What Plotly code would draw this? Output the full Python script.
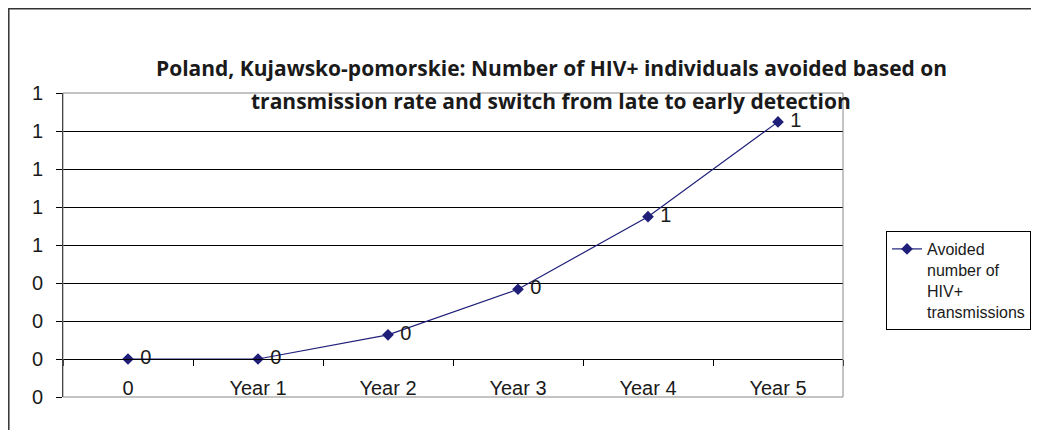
import plotly.graph_objects as go

categories = ["0", "Year 1", "Year 2", "Year 3", "Year 4", "Year 5"]
avoided = [0.0, 0.0, 0.127, 0.367, 0.749, 1.248]
data_labels = ["0", "0", "0", "0", "1", "1"]
y_tickvals = [-0.2, 0.0, 0.2, 0.4, 0.6, 0.8, 1.0, 1.2, 1.4]
y_ticktext = ["0", "0", "0", "0", "1", "1", "1", "1", "1"]
series_name = "Avoided<br>number of<br>HIV+<br>transmissions"
title_line1 = "Poland, Kujawsko-pomorskie: Number of HIV+ individuals avoided based on"
title_line2 = "transmission rate and switch from late to early detection"

# the page body adds an 8px offset to the figure
OFF = 8
W, H = 1039, 430
L, T = 63 - OFF, 93 - OFF
pw, ph = 780, 304
R = W - L - pw
B = H - T - ph

def px_x(x):
    return (x - OFF - L) / pw

def px_y(y):
    return (H - B - (y - OFF)) / ph

line_color = "#1f1f7a"
text_color = "#1a1a1a"
tick_font = dict(family="Liberation Sans, Arial, sans-serif", size=20, color=text_color)

fig = go.Figure()
fig.add_trace(go.Scatter(
    x=categories, y=avoided, mode="lines+markers+text",
    name=series_name,
    line=dict(color=line_color, width=1.2),
    marker=dict(symbol="diamond", size=9, color=line_color),
    text=data_labels, texttemplate="\u00a0%{text}", textposition="middle right",
    textfont=tick_font,
))
# helper trace for the category axis drawn at zero (tick marks only)
fig.add_trace(go.Scatter(
    x=categories, y=[None] * len(categories), xaxis="x2",
    showlegend=False, hoverinfo="skip", mode="lines",
))

fig.update_layout(
    width=W, height=H,
    margin=dict(l=L, r=R, t=T, b=B),
    paper_bgcolor="white", plot_bgcolor="white",
    showlegend=True,
    xaxis=dict(
        type="category", categoryorder="array", categoryarray=categories,
        range=[-0.5, 5.5], showgrid=False, zeroline=False, showline=False,
        ticks="", ticklabelstandoff=-23,
        tickfont=tick_font, automargin=False,
    ),
    xaxis2=dict(
        type="category", categoryorder="array", categoryarray=categories,
        overlaying="x", anchor="free", position=0.125,
        range=[-0.5, 5.5], showgrid=False, zeroline=False,
        showline=True, linecolor="#000", linewidth=1,
        ticks="outside", tickson="boundaries", ticklen=6, tickcolor="#000",
        showticklabels=False, automargin=False,
    ),
    yaxis=dict(
        range=[-0.2, 1.4], tickvals=y_tickvals, ticktext=y_ticktext,
        showgrid=True, gridcolor="#000", gridwidth=1, zeroline=False,
        showline=True, linecolor="#000", linewidth=1,
        ticks="outside", ticklen=6, tickcolor="#000",
        ticklabelstandoff=9, tickfont=tick_font, automargin=False,
    ),
    legend=dict(
        x=px_x(886), y=px_y(231), xanchor="left", yanchor="top",
        bordercolor="#000", borderwidth=1, bgcolor="white",
        font=dict(family="Liberation Sans, Arial, sans-serif", size=16, color=text_color),
        valign="top", tracegroupgap=0,
    ),
    shapes=[
        dict(type="rect", xref="paper", yref="paper", x0=0, x1=1, y0=0, y1=1,
             line=dict(color="#888", width=1), layer="above"),
        dict(type="rect", xref="paper", yref="paper",
             x0=px_x(8.8), x1=px_x(1100), y0=px_y(480), y1=px_y(8.8),
             line=dict(color="#333", width=1.5)),
    ],
    annotations=[
        dict(text=title_line1, xref="paper", yref="paper", x=px_x(551), y=px_y(68),
             xanchor="center", yanchor="middle", showarrow=False,
             font=dict(family="Open Sans, sans-serif", size=21, color=text_color, weight="bold")),
        dict(text=title_line2, xref="paper", yref="paper", x=px_x(551), y=px_y(101),
             xanchor="center", yanchor="middle", showarrow=False,
             font=dict(family="Open Sans, sans-serif", size=21, color=text_color, weight="bold")),
    ],
)

fig.write_html("out.html")
